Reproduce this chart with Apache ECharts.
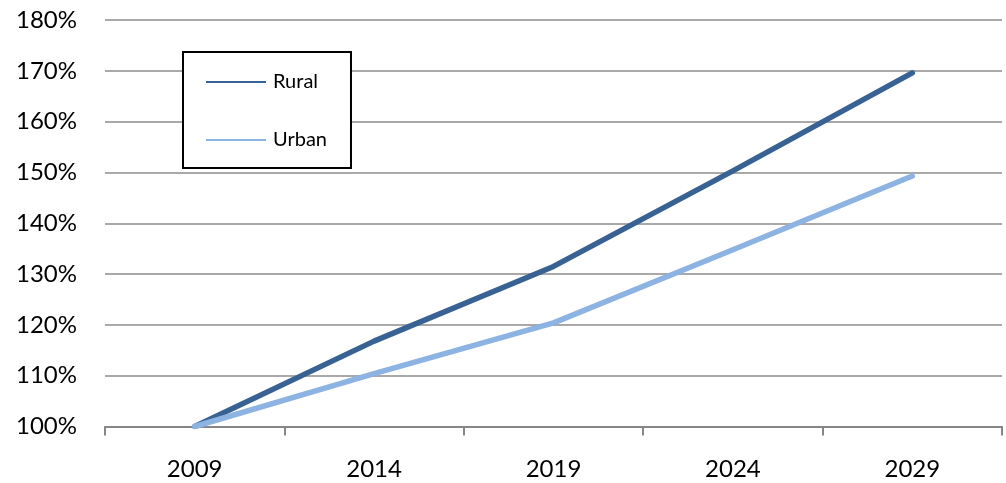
<!DOCTYPE html>
<html>
<head>
<meta charset="utf-8">
<script src="https://cdn.jsdelivr.net/npm/echarts@6/dist/echarts.min.js"></script>
<style>html,body{margin:0;padding:0;background:#fff}#c{width:1006px;height:483px}</style>
</head>
<body>
<div id="c"></div>
<script>
var years = ['2009', '2014', '2019', '2024', '2029'];
var rural = [100, 116.8, 131.5, 150.3, 169.6];
var urban = [100, 110.4, 120.4, 134.8, 149.3];
var yMin = 100, yMax = 180, yStep = 10;

var chart = echarts.init(document.getElementById('c'));
chart.setOption({
  animation: false,
  backgroundColor: '#ffffff',
  textStyle: { fontFamily: 'Lato' },
  grid: { left: 105, right: 4, top: 20, bottom: 56.5, containLabel: false },
  legend: {
    left: 183, top: 52,
    orient: 'vertical',
    icon: 'rect',
    itemWidth: 60, itemHeight: 2,
    itemGap: 38,
    padding: [20, 24, 18, 23],
    borderColor: '#000', borderWidth: 2,
    backgroundColor: '#fff',
    textStyle: { fontFamily: 'Lato', fontSize: 20, color: '#000', padding: [0, 0, 0, 2] },
    data: ['Rural', 'Urban']
  },
  xAxis: {
    type: 'category', data: years, boundaryGap: true,
    axisLine: { lineStyle: { color: '#868686', width: 2 } },
    axisTick: { show: true, length: 9, lineStyle: { color: '#868686', width: 2 } },
    axisLabel: { fontFamily: 'Lato', fontSize: 24, color: '#000', margin: 31 },
    splitLine: { show: false }
  },
  yAxis: {
    type: 'value', min: yMin, max: yMax, interval: yStep,
    axisLine: { show: false }, axisTick: { show: false },
    axisLabel: { fontFamily: 'Lato', fontSize: 24, color: '#000', margin: 28, formatter: '{value}%' },
    splitLine: { lineStyle: { color: '#8c8c8c', width: 1.5 } }
  },
  series: [
    { name: 'Rural', type: 'line', data: rural, symbol: 'none', color: '#386293',
      lineStyle: { width: 5.5, color: '#386293', cap: 'round', join: 'round' }, z: 3 },
    { name: 'Urban', type: 'line', data: urban, symbol: 'none', color: '#8db3e2',
      lineStyle: { width: 5.5, color: '#8db3e2', cap: 'round', join: 'round' }, z: 4 }
  ]
});
</script>
</body>
</html>
